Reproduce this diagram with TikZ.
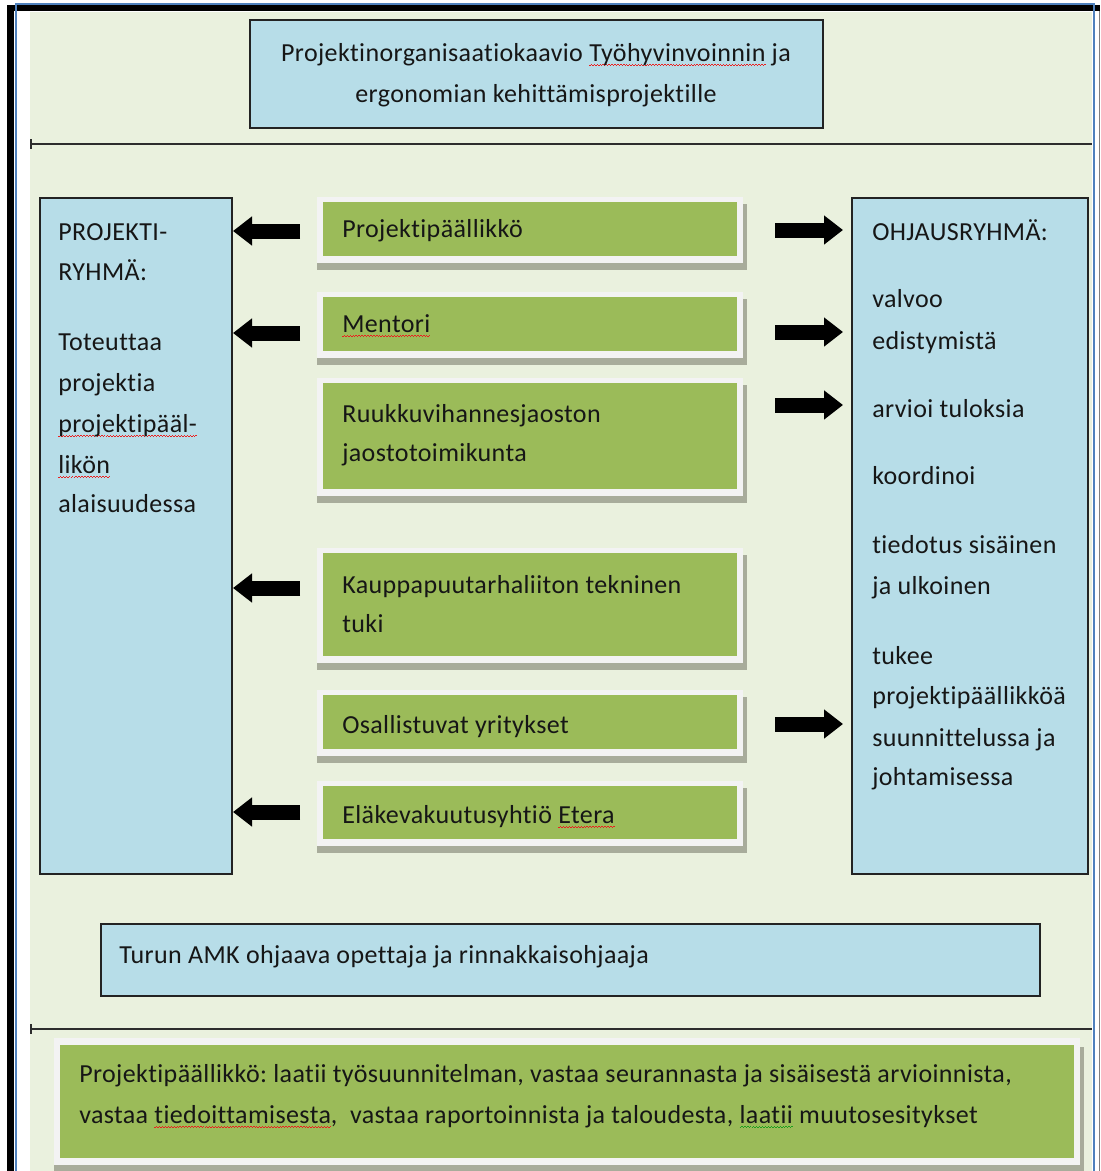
\documentclass[tikz,border=0pt]{standalone}
\usepackage{fontspec}
\setmainfont{Carlito}[LetterSpace=1.5,Ligatures=NoCommon]
\usetikzlibrary{arrows.meta,fit}
\definecolor{bgc}{RGB}{234,241,222}
\definecolor{bluec}{RGB}{183,221,232}
\definecolor{greenc}{RGB}{155,187,89}
\definecolor{framec}{RGB}{243,243,243}
\definecolor{shadowc}{RGB}{168,172,155}
\definecolor{edgec}{RGB}{35,35,35}
\definecolor{framblue}{RGB}{79,129,189}
\definecolor{txtc}{RGB}{22,22,22}
\definecolor{rulecol}{RGB}{45,45,45}
\definecolor{squigred}{RGB}{235,30,30}
\definecolor{squiggreen}{RGB}{30,160,30}
\frenchspacing
\newcommand\squig[2][squigred]{\setbox0=\hbox{#2}\rlap{\raisebox{-3.6pt}{\color{#1}\hbox to \wd0{\xleaders\hbox{\rule{1.1pt}{0.55pt}\raisebox{0.75pt}{\rule{1.1pt}{0.55pt}}}\hfill}}}\box0\relax}
\newcommand\gbox[5]{%
  \fill[shadowc] (#2-6,#3+2) rectangle (#4+10,#5+14);
  \fill[framec] (#2-6,#3-5) rectangle (#4+6,#5+7);
  \node[greenbox, fit={(#2,#3) (#4,#5)}] (#1) {};
}
\begin{document}
\begin{tikzpicture}[x=0.75pt,y=-0.75pt,
  txt/.style={font=\fontsize{19.5}{30}\selectfont, text=txtc, inner sep=0pt, anchor=base west},
  bluebox/.style={draw=edgec, line width=1.5pt, fill=bluec, inner sep=0pt},
  greenbox/.style={fill=greenc, inner sep=0pt},
  rulestyle/.style={draw=rulecol, line width=1.3pt},
  blockarrow/.style={draw=black, line width=11.25pt, -{Triangle[length=14.25pt,width=21pt]}}
]
\useasboundingbox (0,0) rectangle (1100,1171);
% page frame
\fill[white] (0,0) rectangle (1100,1171);
\fill[bgc] (30,12) rectangle (1092,1171);
\fill[black] (7,5) rectangle (1100,10.5);
\fill[black] (7,5) rectangle (14,1171);
\draw[framblue, line width=1.5pt] (15.5,1171) -- (15.5,3.5) -- (1093.5,3.5) -- (1093.5,1171);
\draw[gray, line width=0.75pt] (1099,11) -- (1099,1171);

% title
\node[bluebox, fit={(250,20) (823,128)}] (title) {};
\node[txt, anchor=base] (title1) at (536,61) {Projektinorganisaatiokaavio \squig{Työhyvinvoinnin} ja};
\node[txt, anchor=base] (title2) at (536,102) {ergonomian kehittämisprojektille};

% rules
\coordinate (r1a) at (31,144); \coordinate (r1b) at (1092,144);
\draw[rulestyle] (r1a) -- (r1b);
\draw[rulestyle] (31,139) -- (31,149);
\coordinate (r2a) at (31,1029); \coordinate (r2b) at (1092,1029);
\draw[rulestyle] (r2a) -- (r2b);
\draw[rulestyle] (31,1024) -- (31,1034);

% side boxes
\node[bluebox, fit={(40,198) (232,874)}] (left) {};
\node[bluebox, fit={(852,198) (1088,874)}] (right) {};

\node[txt] (l1) at (58,240) {PROJEKTI-};
\node[txt] (l2) at (58,280) {RYHMÄ:};
\node[txt] (l3) at (58,350) {Toteuttaa};
\node[txt] (l4) at (58,391) {projektia};
\node[txt] (l5) at (58,432) {\squig{projektipääl-}};
\node[txt] (l6) at (58,473) {\squig{likön}};
\node[txt] (l7) at (58,512) {alaisuudessa};

\node[txt] (r1) at (872,240) {OHJAUSRYHMÄ:};
\node[txt] (r2) at (872,307) {valvoo};
\node[txt] (r3) at (872,349) {edistymistä};
\node[txt] (r4) at (872,417) {arvioi tuloksia};
\node[txt] (r5) at (872,484) {koordinoi};
\node[txt] (r6) at (872,553) {tiedotus sisäinen};
\node[txt] (r7) at (872,594) {ja ulkoinen};
\node[txt] (r8) at (872,664) {tukee};
\node[txt] (r9) at (872,704) {projektipäällikköä};
\node[txt] (r10) at (872,746) {suunnittelussa ja};
\node[txt] (r11) at (872,785) {johtamisessa};

% green boxes
\gbox{g1}{323}{202}{737}{256}
\gbox{g2}{323}{297}{737}{351}
\gbox{g3}{323}{383}{737}{489}
\gbox{g4}{323}{553}{737}{656}
\gbox{g5}{323}{695}{737}{749}
\gbox{g6}{323}{786}{737}{839}

\node[txt] (g1t) at (342,237) {Projektipäällikkö};
\node[txt] (g2t) at (342,332) {\squig{Mentori}};
\node[txt] (g3t) at (342,422) {Ruukkuvihannesjaoston};
\node[txt] (g3u) at (342,461) {jaostotoimikunta};
\node[txt] (g4t) at (342,593) {Kauppapuutarhaliiton tekninen};
\node[txt] (g4u) at (342,632) {tuki};
\node[txt] (g5t) at (342,733) {Osallistuvat yritykset};
\node[txt] (g6t) at (342,823) {Eläkevakuutusyhtiö \squig{Etera}};

% Turun AMK
\node[bluebox, fit={(101,924) (1040,996)}] (amk) {};
\node[txt] (amkt) at (119,963) {Turun AMK ohjaava opettaja ja rinnakkaisohjaaja};

% bottom box
\fill[shadowc] (54,1047) rectangle (1084,1175);
\fill[framec] (54,1038) rectangle (1080,1165);
\node[greenbox, fit={(60,1045) (1074,1158)}] (pm) {};
\node[txt] (pm1) at (79,1082) {Projektipäällikkö: laatii työsuunnitelman, vastaa\ seurannasta ja sisäisestä arvioinnista,};
\node[txt] (pm2) at (79,1123) {vastaa \squig{tiedoittamisesta},\ \ vastaa raportoinnista ja taloudesta, \squig[squiggreen]{laatii} muutosesitykset};

% arrows to left
\coordinate (la1s) at (300,231); \coordinate (la1e) at (233,231);
\coordinate (la2s) at (300,333); \coordinate (la2e) at (233,333);
\coordinate (la3s) at (300,588); \coordinate (la3e) at (233,588);
\coordinate (la4s) at (300,812); \coordinate (la4e) at (233,812);
\draw[blockarrow] (la1s) -- (la1e);
\draw[blockarrow] (la2s) -- (la2e);
\draw[blockarrow] (la3s) -- (la3e);
\draw[blockarrow] (la4s) -- (la4e);
% arrows to right
\coordinate (ra1s) at (775,230); \coordinate (ra1e) at (843,230);
\coordinate (ra2s) at (775,332); \coordinate (ra2e) at (843,332);
\coordinate (ra3s) at (775,405); \coordinate (ra3e) at (843,405);
\coordinate (ra4s) at (775,724); \coordinate (ra4e) at (843,724);
\draw[blockarrow] (ra1s) -- (ra1e);
\draw[blockarrow] (ra2s) -- (ra2e);
\draw[blockarrow] (ra3s) -- (ra3e);
\draw[blockarrow] (ra4s) -- (ra4e);
\end{tikzpicture}
\end{document}
